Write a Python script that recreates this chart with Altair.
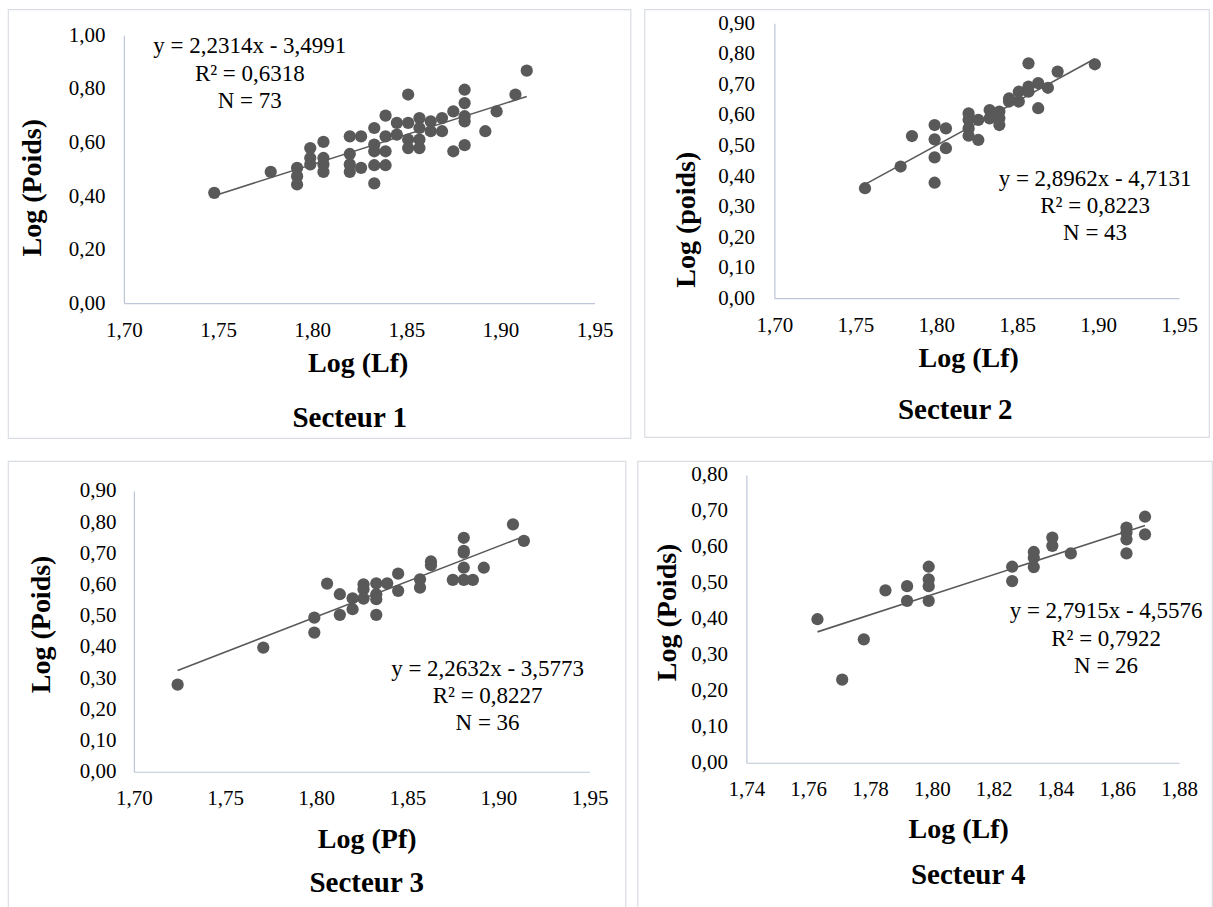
import altair as alt
import pandas as pd

FONT = "Liberation Serif"
DOT = "#595959"
AXIS_COL = "#bcc6d6"
BOX_COL = "#d9dde3"

# ---------------- Secteur 1 ----------------
s1_x = [1.748, 1.778,
        1.792, 1.792, 1.792,
        1.799, 1.799, 1.799,
        1.806, 1.806, 1.806, 1.806,
        1.820, 1.820, 1.820, 1.820,
        1.826, 1.826,
        1.833, 1.833, 1.833, 1.833, 1.833,
        1.839, 1.839, 1.839, 1.839,
        1.845, 1.845,
        1.851, 1.851, 1.851, 1.851,
        1.857, 1.857, 1.857, 1.857,
        1.863, 1.863,
        1.869, 1.869,
        1.875, 1.875,
        1.881, 1.881, 1.881, 1.881, 1.881,
        1.892, 1.898, 1.908, 1.914]
s1_y = [0.412, 0.490,
        0.505, 0.474, 0.443,
        0.579, 0.542, 0.518,
        0.602, 0.542, 0.518, 0.490,
        0.623, 0.557, 0.518, 0.490,
        0.623, 0.505,
        0.654, 0.592, 0.567, 0.515, 0.447,
        0.700, 0.623, 0.567, 0.515,
        0.673, 0.629,
        0.779, 0.673, 0.611, 0.579,
        0.691, 0.654, 0.611, 0.579,
        0.679, 0.642,
        0.691, 0.642,
        0.716, 0.567,
        0.797, 0.747, 0.698, 0.679, 0.590,
        0.642, 0.716, 0.779, 0.868]
s1_eq = ["y = 2,2314x - 3,4991", "R² = 0,6318", "N = 73"]
s1_fit = (2.2314, -3.4991)

# ---------------- Secteur 2 ----------------
s2_x = [1.756, 1.778, 1.785,
        1.799, 1.799, 1.799, 1.799,
        1.806, 1.806,
        1.820, 1.820, 1.820, 1.820,
        1.826, 1.826,
        1.833, 1.833,
        1.839, 1.839, 1.839,
        1.845, 1.845,
        1.851, 1.851,
        1.857, 1.857, 1.857,
        1.863, 1.863,
        1.869, 1.875, 1.898]
s2_y = [0.360, 0.431, 0.531,
        0.567, 0.520, 0.461, 0.378,
        0.556, 0.491,
        0.605, 0.584, 0.556, 0.532,
        0.584, 0.518,
        0.616, 0.589,
        0.611, 0.589, 0.567,
        0.654, 0.644,
        0.676, 0.644,
        0.769, 0.693, 0.676,
        0.704, 0.622,
        0.689, 0.742, 0.766]
s2_eq = ["y = 2,8962x - 4,7131", "R² = 0,8223", "N = 43"]
s2_fit = (2.8962, -4.7131)

# ---------------- Secteur 3 ----------------
s3_x = [1.724, 1.771,
        1.799, 1.799,
        1.806,
        1.813, 1.813,
        1.820, 1.820,
        1.826, 1.826, 1.826,
        1.833, 1.833, 1.833, 1.833,
        1.839,
        1.845, 1.845,
        1.857, 1.857,
        1.863, 1.863,
        1.875,
        1.881, 1.881, 1.881, 1.881, 1.881,
        1.886, 1.892, 1.908, 1.914]
s3_y = [0.279, 0.398,
        0.494, 0.446,
        0.603,
        0.569, 0.503,
        0.556, 0.521,
        0.601, 0.585, 0.555,
        0.604, 0.569, 0.553, 0.503,
        0.604,
        0.635, 0.580,
        0.617, 0.590,
        0.674, 0.662,
        0.615,
        0.750, 0.708, 0.702, 0.654, 0.615,
        0.615, 0.654, 0.793, 0.740]
s3_eq = ["y = 2,2632x - 3,5773", "R² = 0,8227", "N = 36"]
s3_fit = (2.2632, -3.5773)

# ---------------- Secteur 4 ----------------
s4_x = [1.763, 1.771, 1.778, 1.785,
        1.792, 1.792,
        1.799, 1.799, 1.799, 1.799,
        1.826, 1.826,
        1.833, 1.833, 1.833,
        1.839, 1.839,
        1.845,
        1.863, 1.863, 1.863, 1.863,
        1.869, 1.869]
s4_y = [0.399, 0.231, 0.343, 0.479,
        0.491, 0.450,
        0.545, 0.510, 0.491, 0.450,
        0.545, 0.505,
        0.586, 0.570, 0.544,
        0.626, 0.603,
        0.582,
        0.654, 0.640, 0.621, 0.582,
        0.684, 0.635]
s4_eq = ["y = 2,7915x - 4,5576", "R² = 0,7922", "N = 26"]
s4_fit = (2.7915, -4.5576)

# tick values
x_ticks_a = [1.70, 1.75, 1.80, 1.85, 1.90, 1.95]
x_ticks_b = [1.74, 1.76, 1.78, 1.80, 1.82, 1.84, 1.86, 1.88]
y_ticks_10 = [0.0, 0.2, 0.4, 0.6, 0.8, 1.0]
y_ticks_09 = [0.0, 0.1, 0.2, 0.3, 0.4, 0.5, 0.6, 0.7, 0.8, 0.9]
y_ticks_08 = [0.0, 0.1, 0.2, 0.3, 0.4, 0.5, 0.6, 0.7, 0.8]

LBL = "replace(format(datum.value, '.2f'), '.', ',')"


def panel(xs, ys, fit, eq, sect, xdom, xticks, ydom, yticks, xtitle, ytitle, g):
    # g: box size (BW, BH) and plot rectangle inside the box (L, R, T, B)
    BW, BH, L, R, T, B = g["BW"], g["BH"], g["L"], g["R"], g["T"], g["B"]
    pts = pd.DataFrame({"x": xs, "y": ys})
    x0, x1 = min(xs), max(xs)
    line = pd.DataFrame({"x": [x0, x1], "y": [fit[0] * x0 + fit[1], fit[0] * x1 + fit[1]]})
    one = pd.DataFrame({"k": [0]})

    xenc = alt.X("x:Q", scale=alt.Scale(domain=xdom, range=[L, R], nice=False, zero=False),
                 axis=alt.Axis(values=xticks, labelExpr=LBL, grid=False, ticks=False, tickSize=0,
                               offset=-(BH - B),
                               domainColor=AXIS_COL, domainWidth=1.2,
                               labelFont=FONT, labelFontSize=21, labelColor="black",
                               labelPadding=g["xlp"], labelFlush=False, labelOverlap=False,
                               title=xtitle, titleFont=FONT, titleFontSize=28, titleFontWeight="bold",
                               titleColor="black", titleX=g["xtx"], titleY=g["xty"],
                               titleBaseline="middle", titleAlign="center"))
    yenc = alt.Y("y:Q", scale=alt.Scale(domain=ydom, range=[B, T], nice=False, zero=False),
                 axis=alt.Axis(values=yticks, labelExpr=LBL, grid=False, ticks=False, tickSize=0,
                               offset=-L,
                               domainColor=AXIS_COL, domainWidth=1.2,
                               labelFont=FONT, labelFontSize=21, labelColor="black",
                               labelPadding=g["ylp"], labelFlush=False, labelOverlap=False,
                               title=ytitle, titleFont=FONT, titleFontSize=28, titleFontWeight="bold",
                               titleColor="black", titleX=g["ytx"], titleY=g["yty"],
                               titleBaseline="middle", titleAlign="center", titleAngle=270))

    dots = alt.Chart(pts).mark_circle(size=150, color=DOT, opacity=1).encode(x=xenc, y=yenc)
    trend = alt.Chart(line).mark_line(color=DOT, strokeWidth=1.6).encode(x=xenc, y=yenc)
    eqt = alt.Chart(one).mark_text(font=FONT, fontSize=23, lineBreak="\n", lineHeight=g["elh"],
                                   align="center", baseline="middle", color="black").encode(
        x=alt.value(g["ex"]), y=alt.value(g["ey"]), text=alt.value("\n".join(eq)))
    st = alt.Chart(one).mark_text(font=FONT, fontSize=29, fontWeight="bold", align="center",
                                  baseline="middle", color="black").encode(
        x=alt.value(g["sx"]), y=alt.value(g["sy"]), text=alt.value(sect))
    return alt.layer(dots, trend, eqt, st).properties(width=BW, height=BH)


g1 = dict(BW=623, BH=429, L=116, R=587, T=26, B=294, xlp=16, ylp=19,
          xtx=350, xty=60, ytx=-91, yty=178, ex=242, ey=37, elh=27.5, sx=342, sy=409)
g2 = dict(BW=565, BH=428, L=130, R=535, T=14, B=289, xlp=16, ylp=20,
          xtx=324, xty=60, ytx=-88, yty=210, ex=451, ey=170, elh=26.7, sx=311, sy=401)
g3 = dict(BW=618, BH=447, L=126, R=582, T=30, B=311, xlp=16, ylp=18,
          xtx=359, xty=68, ytx=-92, yty=163, ex=480, ey=208, elh=27, sx=359, sy=422)
g4 = dict(BW=575, BH=447, L=109, R=542, T=14, B=302, xlp=16, ylp=19,
          xtx=321, xty=67, ytx=-79, yty=151, ex=469, ey=150, elh=27.8, sx=331, sy=414)

p1 = panel(s1_x, s1_y, s1_fit, s1_eq, "Secteur 1", [1.70, 1.95], x_ticks_a, [0, 1.0], y_ticks_10,
           "Log (Lf)", "Log (Poids)", g1)
p2 = panel(s2_x, s2_y, s2_fit, s2_eq, "Secteur 2", [1.70, 1.95], x_ticks_a, [0, 0.9], y_ticks_09,
           "Log (Lf)", "Log (poids)", g2)
p3 = panel(s3_x, s3_y, s3_fit, s3_eq, "Secteur 3", [1.70, 1.95], x_ticks_a, [0, 0.9], y_ticks_09,
           "Log (Pf)", "Log (Poids)", g3)
p4 = panel(s4_x, s4_y, s4_fit, s4_eq, "Secteur 4", [1.74, 1.88], x_ticks_b, [0, 0.8], y_ticks_08,
           "Log (Lf)", "Log (Poids)", g4)

row1 = alt.hconcat(p1, p2, spacing=12)
row2 = alt.hconcat(p3, p4, spacing=10)
chart = alt.vconcat(row1, row2, spacing=21).properties(
    padding={"left": 7, "top": 8, "right": 0, "bottom": 0}, background="white"
).configure_view(stroke=BOX_COL, strokeWidth=1.2, fill="white")

chart.save("out.html", embed_options={"renderer": "svg", "actions": False})
